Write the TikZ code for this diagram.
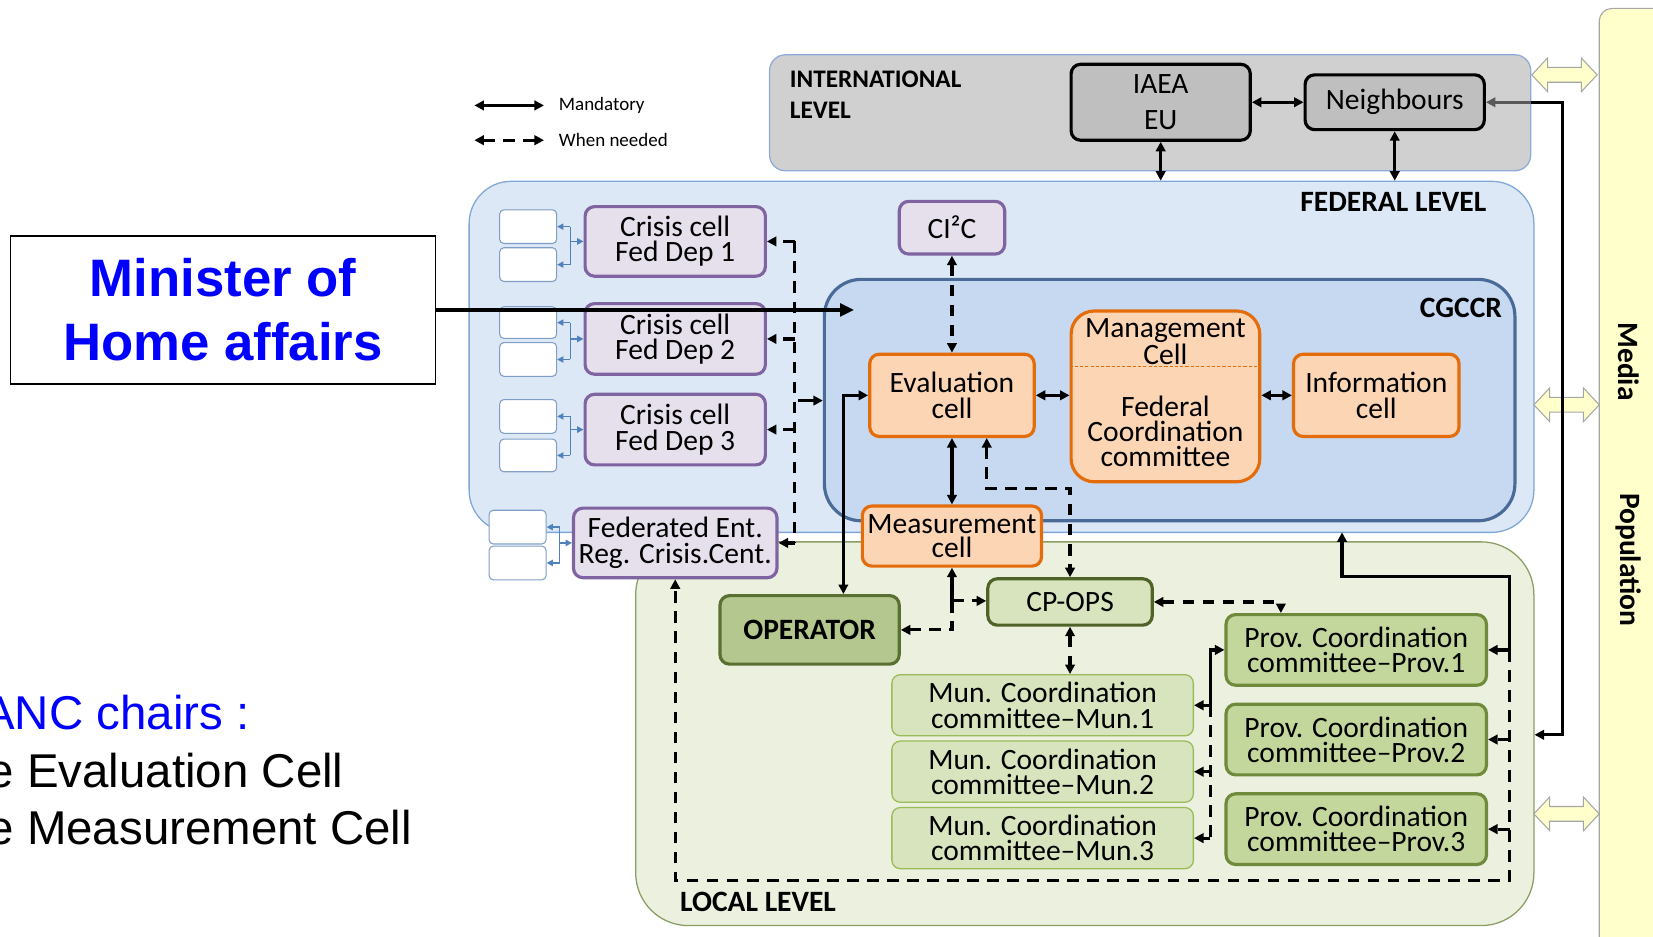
\documentclass[tikz,border=0pt]{standalone}
\usepackage{fontspec}
\setmainfont{Carlito}
\newfontfamily\arialf{Liberation Sans}
\usetikzlibrary{arrows.meta,calc}
\definecolor{intlfill}{HTML}{D0D0D0}
\definecolor{intlline}{HTML}{8EAADB}
\definecolor{grbox}{HTML}{BFBFBF}
\definecolor{fedfill}{HTML}{DDE8F6}
\definecolor{fedline}{HTML}{7EA6D8}
\definecolor{cgfill}{HTML}{C6D9F1}
\definecolor{cgline}{HTML}{4A6B98}
\definecolor{purfill}{HTML}{E5E0EC}
\definecolor{purline}{HTML}{8064A2}
\definecolor{orfill}{HTML}{FCD5B5}
\definecolor{orline}{HTML}{E46C0A}
\definecolor{locfill}{HTML}{EBF1DE}
\definecolor{locline}{HTML}{8A9E63}
\definecolor{opfill}{HTML}{B3C78E}
\definecolor{opline}{HTML}{5A7032}
\definecolor{cpfill}{HTML}{D7E4BD}
\definecolor{cpline}{HTML}{4F6228}
\definecolor{munline}{HTML}{9BBB59}
\definecolor{provfill}{HTML}{C3D69B}
\definecolor{provline}{HTML}{6E8A3A}
\definecolor{yel}{HTML}{FFFFCC}
\definecolor{yelline}{HTML}{A6A6A6}
\definecolor{bluc}{HTML}{4F81BD}
\definecolor{wbline}{HTML}{7F9FC8}
\tikzset{
  region/.style={draw, line width=1.2pt, inner sep=0pt},
  cellbox/.style={draw, rounded corners=9pt, line width=3pt, inner sep=0pt, align=center, font=\fontsize{28}{24}\selectfont},
  gbox/.style={cellbox, fill=grbox, draw=black},
  purbox/.style={cellbox, fill=purfill, draw=purline},
  orbox/.style={cellbox, fill=orfill, draw=orline},
  opbox/.style={cellbox, fill=opfill, draw=opline, font=\bfseries\fontsize{28}{24}\selectfont},
  cpbox/.style={cellbox, fill=cpfill, draw=cpline},
  munbox/.style={cellbox, fill=cpfill, draw=munline, line width=1.2pt, rounded corners=8pt},
  provbox/.style={cellbox, fill=provfill, draw=provline},
  wbox/.style={draw=wbline, fill=white, rounded corners=4pt, line width=1pt, minimum width=54pt, minimum height=32pt, inner sep=0pt},
  lab/.style={font=\bfseries\fontsize{28}{30}\selectfont, inner sep=0pt},
  conn/.style={line width=3pt, >={Triangle[length=9pt,width=9pt]}},
  dsh/.style={conn, dash pattern=on 11pt off 8pt},
  blu/.style={draw=bluc, line width=1.3pt, >={Triangle[length=6pt,width=6pt]}},
  hol/.style={draw=yelline, fill=yel, line width=1pt},
  bigtxt/.style={font=\arialf\fontsize{45}{54}\selectfont, inner sep=0pt, anchor=base west}
}
\begin{document}
\begin{tikzpicture}[x=1pt,y=-1pt]
\useasboundingbox (0,0) rectangle (1568,888);
% regions
\node[region, fill=intlfill, draw=intlline, rounded corners=15pt, minimum width=722pt, minimum height=110pt] (intl) at (1091,107) {};
\node[region, fill=fedfill, draw=fedline, rounded corners=40pt, minimum width=1010pt, minimum height=333pt] (fed) at (950,338.5) {};
\node[region, fill=cgfill, draw=cgline, line width=3pt, rounded corners=35pt, minimum width=655pt, minimum height=229pt] (cgccr) at (1109.5,379.5) {};
\node[region, fill=locfill, draw=locline, rounded corners=50pt, minimum width=852pt, minimum height=364pt] (local) at (1029,696) {};
\draw[hol, rounded corners=12pt] (1517,8) rectangle (1620,930);
% hollow double arrows
\foreach \xa/\xb/\yy in {1453/1515/71, 1455/1517/384, 1455/1517/772}{
  \draw[hol] (\xa,\yy) -- (\xa+15,\yy-16) -- (\xa+15,\yy-7) -- (\xb-15,\yy-7) -- (\xb-15,\yy-16) -- (\xb,\yy) -- (\xb-15,\yy+16) -- (\xb-15,\yy+7) -- (\xa+15,\yy+7) -- (\xa+15,\yy+16) -- cycle;
}
% labels
\node[lab, font=\bfseries\fontsize{24}{30}\selectfont, align=left, anchor=west] (intllab) at (749,90) {INTERNATIONAL\\LEVEL};
\node[lab, anchor=east] (fedlab) at (1410,192) {FEDERAL LEVEL};
\node[lab, anchor=east] (cglab) at (1425,292) {CGCCR};
\node[lab, anchor=west] (loclab) at (645,856) {LOCAL LEVEL};
\node[lab, rotate=-90] (media) at (1545,343) {Media};
\node[lab, rotate=-90] (popu) at (1545,531) {Population};
% legend
\coordinate (lm1) at (450,100); \coordinate (lm2) at (516,100);
\coordinate (ln1) at (450,133); \coordinate (ln2) at (516,133);
\draw[conn, <->] (lm1) -- (lm2);
\draw[dsh, <->] (ln1) -- (ln2);
\node[anchor=west, inner sep=0pt, font=\fontsize{18}{20}\selectfont] (lgm) at (530,100) {Mandatory};
\node[anchor=west, inner sep=0pt, font=\fontsize{18}{20}\selectfont] (lgn) at (530,133) {When needed};
% international
\node[gbox, minimum width=170pt, minimum height=72pt, font=\fontsize{28}{34}\selectfont] (iaea) at (1101,97) {IAEA\\EU};
\node[gbox, minimum width=170pt, minimum height=52pt] (neigh) at (1323,97) {Neighbours};
% federal
\node[purbox, minimum width=100pt, minimum height=50pt] (ci2c) at (903,216) {CI²C};
\node[purbox, minimum width=171pt, minimum height=66pt] (cc1) at (640.5,229) {Crisis cell\\Fed Dep 1};
\node[purbox, minimum width=171pt, minimum height=67pt] (cc2) at (640.5,321.5) {Crisis cell\\Fed Dep 2};
\node[purbox, minimum width=171pt, minimum height=67pt] (cc3) at (640.5,407.5) {Crisis cell\\Fed Dep 3};
\node[purbox, minimum width=193pt, minimum height=66pt] (ccf) at (640.5,515) {Federated Ent.\\Reg. Crisis.Cent.};
\node[wbox] (wa1) at (501,215) {};
\node[wbox] (wb1) at (501,251) {};
\node[wbox, minimum height=30pt] (wa2) at (501,306) {};
\node[wbox] (wb2) at (501,341) {};
\node[wbox] (wa3) at (501,395) {};
\node[wbox, minimum height=31pt] (wb3) at (501,432) {};
\node[wbox] (waf) at (491,500) {};
\node[wbox] (wbf) at (491,534) {};
% CGCCR cells
\node[orbox, minimum width=156pt, minimum height=78pt] (eval) at (903,375) {Evaluation\\cell};
\node[orbox, rounded corners=22pt, minimum width=179pt, minimum height=162pt] (mgmt) at (1105.5,376) {};
\node[align=center, inner sep=0pt, font=\fontsize{28}{23}\selectfont] (mgt) at (1105.5,324) {Management\\Cell};
\node[align=center, inner sep=0pt, font=\fontsize{28}{24}\selectfont] (fcc) at (1105.5,409) {Federal\\Coordination\\committee};
\draw[orline, line width=0.8pt, dash pattern=on 3pt off 2pt] ([yshift=28pt]mgmt.west) -- ([yshift=28pt]mgmt.east);
\node[orbox, minimum width=157pt, minimum height=78pt] (info) at (1305.5,375) {Information\\cell};
\node[orbox, font=\fontsize{28}{23}\selectfont, minimum width=170pt, minimum height=57pt] (meas) at (903,508.5) {Measurement\\cell};
% local
\node[opbox, minimum width=170pt, minimum height=65pt] (oper) at (768,597.5) {OPERATOR};
\node[cpbox, minimum width=156pt, minimum height=44pt] (cpops) at (1015,571) {CP-OPS};
\node[munbox, minimum width=286pt, minimum height=58pt] (mun1) at (989,669) {Mun. Coordination\\committee–Mun.1};
\node[munbox, minimum width=286pt, minimum height=58pt] (mun2) at (989,732) {Mun. Coordination\\committee–Mun.2};
\node[munbox, minimum width=286pt, minimum height=58pt] (mun3) at (989,795) {Mun. Coordination\\committee–Mun.3};
\node[provbox, minimum width=247pt, minimum height=67pt] (prov1) at (1286.5,616.5) {Prov. Coordination\\committee–Prov.1};
\node[provbox, minimum width=247pt, minimum height=67pt] (prov2) at (1286.5,701.5) {Prov. Coordination\\committee–Prov.2};
\node[provbox, minimum width=247pt, minimum height=67pt] (prov3) at (1286.5,786.5) {Prov. Coordination\\committee–Prov.3};
% minister
\node[draw=black, line width=1.5pt, fill=white, minimum width=403pt, minimum height=140pt, inner sep=0pt, align=center, text=blue, font=\arialf\bfseries\fontsize{50}{61}\selectfont] (minister) at (211.5,294) {Minister of\\Home affairs};
\node[bigtxt, text=blue] (anc) at (-16,692) {ANC chairs :};
\node[bigtxt] (evt) at (-12,747) {e Evaluation Cell};
\node[bigtxt] (mst) at (-12,801) {e Measurement Cell};
% blue brackets
\foreach \n/\bx in {1/541,2/541,3/541,f/531}{
  \draw[blu] (wa\n.east -| \bx,0) -- (wb\n.east -| \bx,0);
  \draw[blu,->] (wa\n.east -| \bx,0) -- (wa\n.east);
  \draw[blu,->] (wb\n.east -| \bx,0) -- (wb\n.east);
  \draw[blu,->] (cc\n.west -| \bx,0) -- (cc\n.west);
}
% connectors
\draw[conn,<->] (iaea.east) -- (iaea.east -| neigh.west);
\draw[conn,<->] (iaea.south) -- (iaea.south |- fed.north);
\draw[conn,<->] (neigh.south) -- (neigh.south |- fed.north);
\coordinate (r1) at (1482,97); \coordinate (r2) at (1482,697);
\draw[conn, draw=gray!70!black, <-] (neigh.east) -- (neigh.east -| intl.east);
\draw[conn,->] (neigh.east -| intl.east) -- (r1) -- (r2) -- (r2 -| local.east);
\coordinate (mend) at (810,294);
\draw[conn, line width=3pt, ->, >={Triangle[length=13pt,width=12pt]}] (minister.east) -- (mend);
\coordinate (bus1) at (754,229); \coordinate (bus2) at (754,321.5);
\coordinate (bus3) at (754,407.5); \coordinate (bus4) at (754,515);
\coordinate (busc) at (757,380);
\draw[dsh] (bus1) -- (bus4);
\draw[dsh,->] (bus1) -- (cc1.east);
\draw[dsh,->] (bus2) -- (cc2.east);
\draw[dsh,->] (bus3) -- (cc3.east);
\draw[dsh,->] (bus4) -- (ccf.east);
\draw[conn,->] (busc) -- (busc -| cgccr.west);
\draw[dsh,<->] (ci2c.south) -- (eval.north);
\draw[conn,<->] (eval.east) -- (eval.east -| mgmt.west);
\draw[conn,<->] (info.west -| mgmt.east) -- (info.west);
\draw[conn,<->] (eval.south) -- (meas.north);
\draw[dsh,<->] ([xshift=33pt]eval.south) -- ++(0,48) -| (cpops.north);
\draw[conn,<->] ([xshift=32pt]oper.north) |- (eval.west);
\coordinate (jn) at (903,570);
\draw[conn,->] (jn) -- (meas.south);
\draw[dsh,->] (jn) -- (jn -| cpops.west);
\draw[dsh,->] (jn) |- (oper.east);
\draw[dsh,<->] (cpops.south) -- (cpops.south |- mun1.north);
\draw[dsh,<->] (cpops.east) -| ([xshift=-71.5pt]prov1.north);
\coordinate (mb) at (1148,669);
\draw[conn,<->] (mun1.east) -- (mb) |- (prov1.west);
\draw[dsh] (mb) -- (mb |- mun3.east);
\draw[dsh,->] (mb |- mun2.east) -- (mun2.east);
\draw[dsh,->] (mb |- mun3.east) -- (mun3.east);
\coordinate (fb) at (1273,505); \coordinate (fb2) at (1273,547);
\coordinate (rb) at (1432,547); \coordinate (rp1) at (1432,616.5);
\draw[conn,<->] (fb) -- (fb2) -- (rb) -- (rp1) -- (prov1.east);
\coordinate (lc1) at (1432,835); \coordinate (lc2) at (640.5,835);
\draw[dsh,->] (rp1) -- (lc1) -- (lc2) -- (ccf.south);
\draw[dsh,->] (rp1 |- prov2.east) -- (prov2.east);
\draw[dsh,->] (rp1 |- prov3.east) -- (prov3.east);
\end{tikzpicture}
\end{document}
